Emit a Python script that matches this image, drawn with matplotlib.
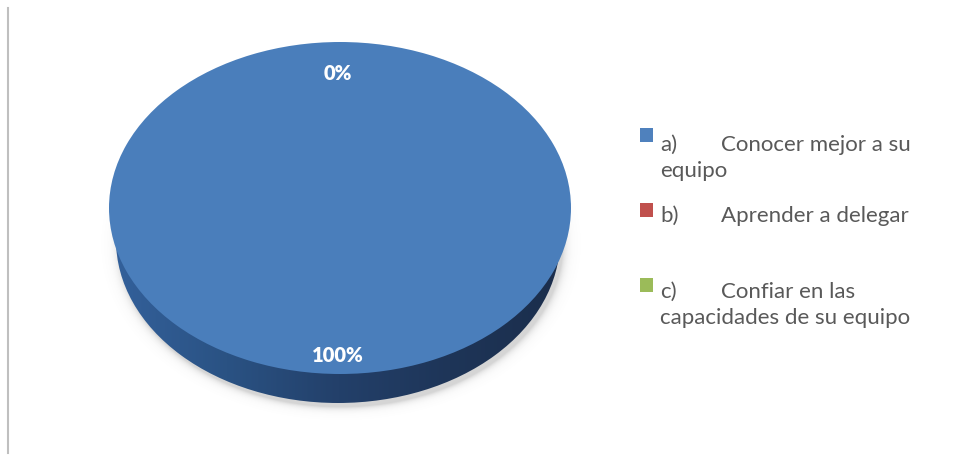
import numpy as np
import matplotlib
matplotlib.use("Agg")
import matplotlib.pyplot as plt
from matplotlib.patches import Ellipse, Rectangle
from matplotlib.lines import Line2D
from matplotlib.colors import LinearSegmentedColormap

# ---------------- data ----------------
categories = ["a)", "b)", "c)"]
legend_lines = [["Conocer mejor a su", "equipo"],
                ["Aprender a delegar"],
                ["Confiar en las", "capacidades de su equipo"]]
values = [100, 0, 0]
colors = ["#4A7EBB", "#C0504D", "#9BBB59"]
legend_colors = ["#4F81BD", "#C0504D", "#9BBB59"]

W, H = 972, 455
fig = plt.figure(figsize=(W / 100, H / 100), dpi=100)

def fx(px):
    return px / W

def fy(py):
    return 1 - py / H

# pie axes geometry (pixels)
cx, cy = 340, 208          # top face centre
sx, sy = 231, 166          # pixels per data unit
xl = (-1.25, 1.25)
yl = (-1.45, 1.25)
left = cx + xl[0] * sx
bottom = cy - yl[0] * sy
ax = fig.add_axes([fx(left), fy(bottom), (xl[1] - xl[0]) * sx / W,
                   (yl[1] - yl[0]) * sy / H])

# bottom (extruded) face in data coords
bcx, bcy = (338 - cx) / sx, -(240 - cy) / sy
bw, bh = 2 * 222 / sx, 2 * 163 / sy

# soft shadow
nx, ny = 700, 500
gx = np.linspace(xl[0], xl[1], nx)
gy = np.linspace(yl[1], yl[0], ny)
X, Y = np.meshgrid(gx, gy)
r = np.sqrt(((X - bcx - 3 / sx) / (bw / 2)) ** 2 + ((Y - bcy + 4 / sy) / (bh / 2)) ** 2)
d = np.clip(r - 1, 0, None) * 160
alpha = 0.30 * np.exp(-d / 3.0)
alpha[r < 1] = 0.30
shadow = np.zeros((ny, nx, 4))
shadow[..., :3] = 0.45
shadow[..., 3] = alpha
ax.imshow(shadow, extent=(xl[0], xl[1], yl[0], yl[1]), aspect="auto",
          zorder=1, interpolation="bilinear")

# side gradient clipped to bottom ellipse
side_cmap = LinearSegmentedColormap.from_list(
    "side", ["#33609a", "#2a5283", "#23406a", "#1e3558", "#1b2e4c"])
grad = np.tile(np.linspace(0, 1, 400), (10, 1))
im = ax.imshow(grad, cmap=side_cmap,
               extent=(bcx - bw / 2, bcx + bw / 2, bcy - bh / 2, bcy + bh / 2),
               aspect="auto", zorder=2)
bottom_face = Ellipse((bcx, bcy), bw, bh, facecolor="none", edgecolor="none")
ax.add_patch(bottom_face)
im.set_clip_path(bottom_face)

# top face via pie
wedges, _ = ax.pie(values, colors=colors, startangle=90, counterclock=False,
                   radius=1, center=(0, 0), frame=True,
                   wedgeprops=dict(linewidth=0, zorder=3))
ax.set_aspect("auto")
ax.set_xlim(*xl)
ax.set_ylim(*yl)
ax.axis("off")

# percentage labels
total = sum(values)
seen = set()
for w, v in zip(wedges, values):
    mid = np.deg2rad((w.theta1 + w.theta2) / 2)
    dist = 0.89 if v > 0 else 0.81
    px, py = dist * np.cos(mid), dist * np.sin(mid)
    key = (round(px, 3), round(py, 3))
    if key in seen:
        continue
    seen.add(key)
    ax.text(px - 2 / sx, py, f"{v / total * 100:.0f}%", ha="center", va="center",
            color="white", fontsize=14.5, fontweight="heavy", family="Lato", zorder=5)

# legend (manual)
sq_tops = [128, 203, 278]
baselines = [151, 222, 298]
line_gap = 26
for i, (cat, lines) in enumerate(zip(categories, legend_lines)):
    fig.add_artist(Rectangle((fx(640), fy(sq_tops[i] + 14)), 13 / W, 14 / H,
                             transform=fig.transFigure, facecolor=legend_colors[i],
                             edgecolor="none"))
    fig.text(fx(660), fy(baselines[i]), cat, ha="left", va="baseline",
             fontsize=16, color="#595959", family="Lato")
    fig.text(fx(721), fy(baselines[i]), lines[0], ha="left", va="baseline",
             fontsize=16, color="#595959", family="Lato")
    for j, ln in enumerate(lines[1:], start=1):
        fig.text(fx(660), fy(baselines[i] + j * line_gap), ln, ha="left",
                 va="baseline", fontsize=16, color="#595959", family="Lato")

# thin left border line
fig.add_artist(Line2D([fx(8), fx(8)], [fy(8), fy(453)], transform=fig.transFigure,
                      color="#bfbfbf", linewidth=1.5))

fig.savefig("out.png", dpi=100)
